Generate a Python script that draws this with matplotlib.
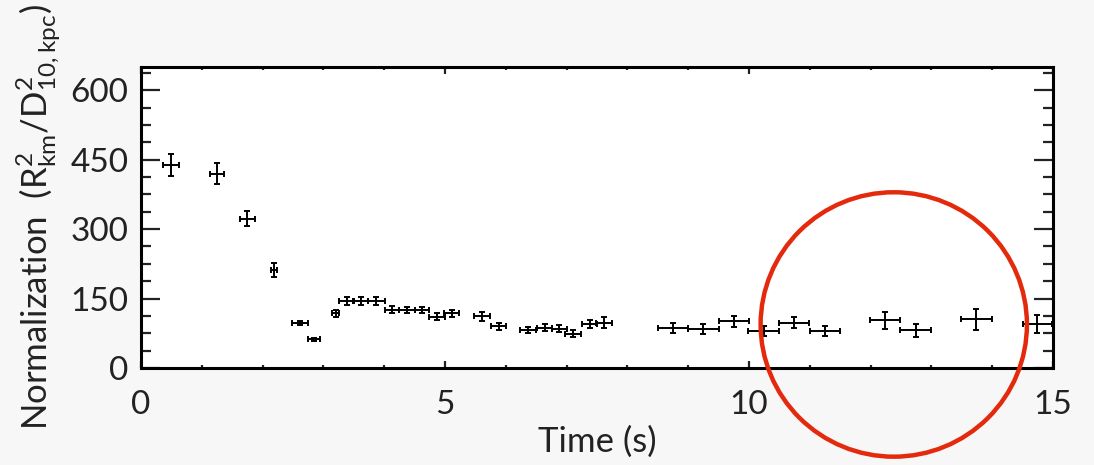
import matplotlib.pyplot as plt
from matplotlib.patches import Ellipse
from matplotlib.ticker import MultipleLocator

# time bins (s), half widths, normalization and 1-sigma errors
t = [0.49, 1.25, 1.75, 2.19, 2.62, 2.84, 3.20, 3.38, 3.61, 3.87, 4.13, 4.37,
     4.62, 4.87, 5.11, 5.61, 5.88, 6.37, 6.64, 6.88, 7.11, 7.38, 7.61, 8.75,
     9.25, 9.75, 10.24, 10.74, 11.25, 12.24, 12.74, 13.74, 14.74]
t_err = [0.13, 0.12, 0.13, 0.05, 0.13, 0.10, 0.055, 0.12, 0.12, 0.14, 0.12, 0.13,
         0.12, 0.13, 0.12, 0.13, 0.13, 0.13, 0.12, 0.12, 0.13, 0.12, 0.13, 0.25,
         0.25, 0.25, 0.25, 0.25, 0.24, 0.25, 0.25, 0.25, 0.24]
norm = [438, 420, 322, 212, 97, 62, 118, 145, 145, 145, 126, 125,
        125, 111, 118, 112, 90, 82, 87, 85, 74, 95, 98, 87,
        85, 101, 80, 98, 80, 103, 82, 105, 95]
norm_err = [24, 22, 16, 15, 5, 3, 8, 8, 8, 8, 7, 7,
            7, 7, 7, 10, 8, 7, 7, 7, 7, 9, 12, 11,
            11, 12, 10, 12, 11, 18, 14, 22, 20]

# highlighted late-time region (data units)
ring_center = (12.38, 94)
ring_size = (4.38, 571)

plt.rcParams['font.family'] = ['Lato', 'DejaVu Sans']
plt.rcParams['mathtext.default'] = 'regular'

fig = plt.figure(figsize=(10.94, 4.65), dpi=100, facecolor='#f7f7f7')
ax = fig.add_axes([0.1289, 0.2086, 0.8337, 0.6473])
ax.set_facecolor('white')

ax.errorbar(t, norm, xerr=t_err, yerr=norm_err, fmt='none', ecolor='black',
            elinewidth=1.4, capsize=2.5, capthick=1.4)

ax.set_xlim(0, 15)
ax.set_ylim(0, 650)
ax.xaxis.set_major_locator(MultipleLocator(5))
ax.xaxis.set_minor_locator(MultipleLocator(1))
ax.yaxis.set_major_locator(MultipleLocator(150))
ax.yaxis.set_minor_locator(MultipleLocator(37.5))

ax.tick_params(which='both', direction='in', top=True, right=True, width=1.6,
               labelsize=24, colors='#222222')
ax.tick_params(axis='y', which='major', length=13.5, pad=9)
ax.tick_params(axis='y', which='minor', length=7)
ax.tick_params(axis='x', which='major', length=5, pad=16)
ax.tick_params(axis='x', which='minor', length=2.5)
for sp in ax.spines.values():
    sp.set_linewidth(2.2)

ax.set_xlabel('Time (s)', fontsize=25, labelpad=4, color='#222222')
ax.set_ylabel(r'Normalization  ($R^2_{km}/D^2_{10,kpc}$)', fontsize=25,
              labelpad=6, color='#222222')

ring = Ellipse(ring_center, ring_size[0], ring_size[1], fill=False,
               edgecolor='#e42a0c', linewidth=3.2, clip_on=False, zorder=5)
ax.add_patch(ring)

fig.savefig('out.png', dpi=100, facecolor=fig.get_facecolor())
